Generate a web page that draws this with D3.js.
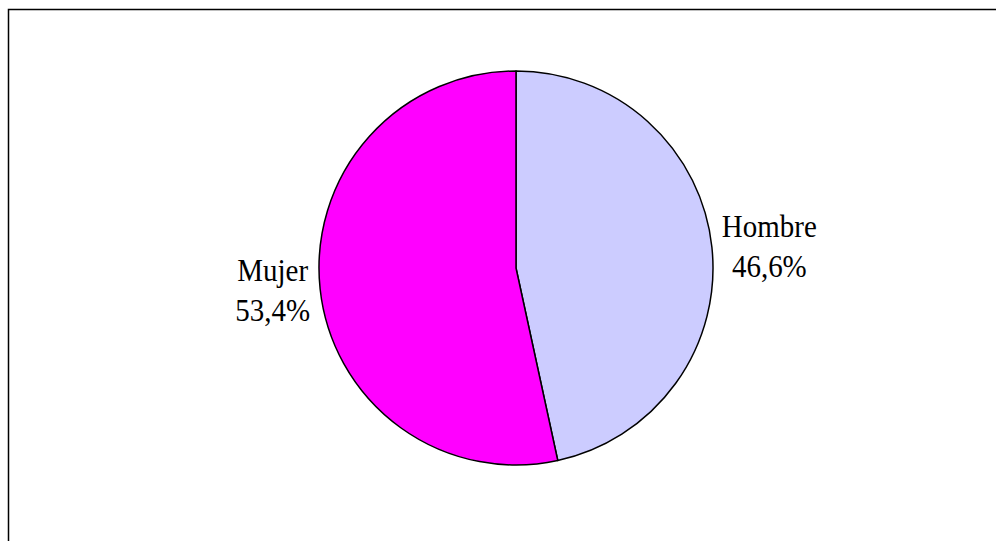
<!DOCTYPE html>
<html><head><meta charset="utf-8">
<script src="https://cdn.jsdelivr.net/npm/d3@7"></script>
<style>html,body{margin:0;padding:0;background:#fff;}svg{display:block;}</style>
</head><body>
<svg id="chart" width="996" height="541"></svg>
<script>
const categories = ["Hombre", "Mujer"];
const values = [46.6, 53.4];
const labels = ["46,6%", "53,4%"];
const colors = ["#CCCCFF", "#FF00FF"];

const svg = d3.select("#chart");
svg.append("rect").attr("x", 8.5).attr("y", 9.5).attr("width", 1100).attr("height", 700)
  .attr("fill", "#fff").attr("stroke", "#000").attr("stroke-width", 1.5);

const cx = 516, cy = 268, R = 197;
const g = svg.append("g").attr("transform", `translate(${cx},${cy})`);
const pie = d3.pie().sort(null).value(d => d.v);
const data = pie(categories.map((c, i) => ({c, v: values[i], l: labels[i], col: colors[i]})));
const arc = d3.arc().innerRadius(0).outerRadius(R);
g.selectAll("path").data(data).enter().append("path")
  .attr("d", arc).attr("fill", d => d.data.col)
  .attr("stroke", "#000").attr("stroke-width", 1.5).attr("stroke-linejoin", "round");

const fontSize = 29, sy = 1.12, capH = 21.3, lineH = 40;
data.forEach(d => {
  const a = (d.startAngle + d.endAngle) / 2;
  const lr = R + 10;
  const px = Math.sin(a) * lr, py = -Math.cos(a) * lr;
  const right = Math.sin(a) >= 0;
  const lines = [d.data.c, d.data.l];
  const els = lines.map(s => g.append("text")
    .attr("font-family", "'Liberation Serif','Times New Roman',serif")
    .attr("font-size", fontSize).attr("fill", "#000").attr("text-anchor", "middle").text(s));
  const w = Math.max(...els.map(e => e.node().getComputedTextLength()));
  const x = right ? px + w / 2 : px - w / 2;
  const top = py - (lineH + capH) / 2;
  els.forEach((e, i) => {
    e.attr("transform", `translate(${x},${top + capH + i * lineH}) scale(1,${sy})`);
  });
});
</script>
</body></html>
